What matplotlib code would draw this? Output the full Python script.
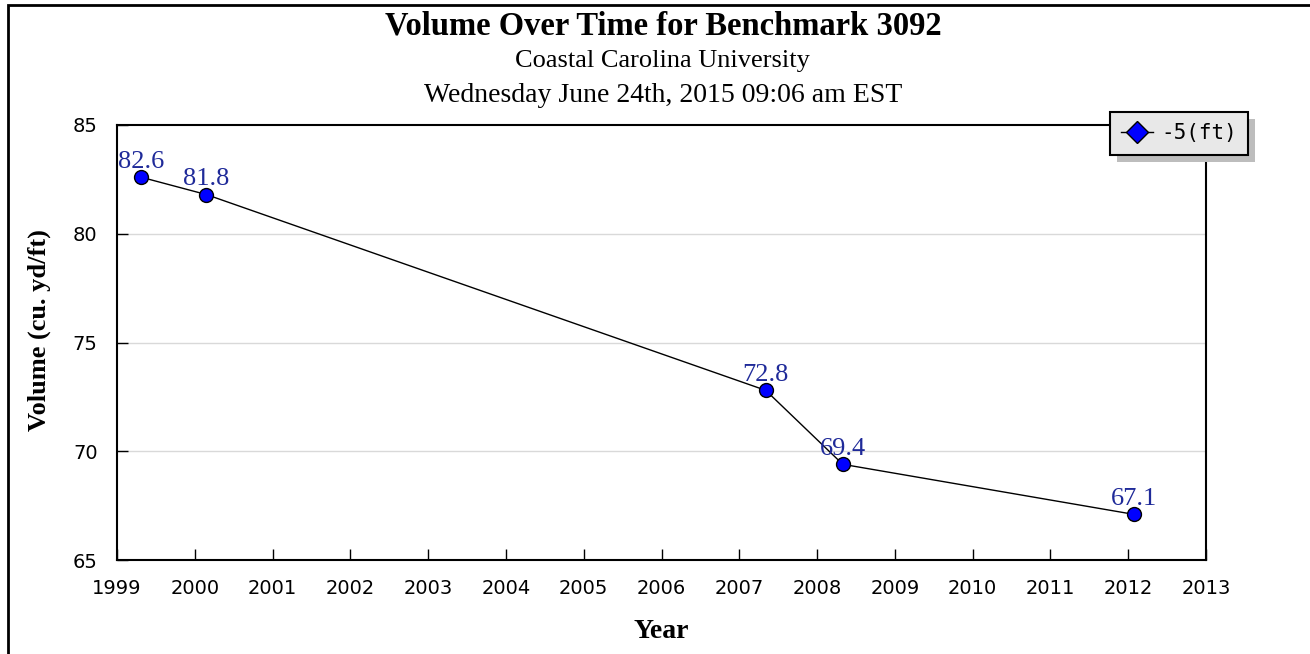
import matplotlib
matplotlib.use('Agg')
import matplotlib.pyplot as plt
from matplotlib.lines import Line2D
from matplotlib.patches import Rectangle

# data
years = [1999.31, 2000.15, 2007.34, 2008.33, 2012.07]
volume = [82.6, 81.8, 72.8, 69.4, 67.1]
series_name = '-5(ft)'
x_ticks = list(range(1999, 2014))
y_ticks = [65, 70, 75, 80, 85]

title = 'Volume Over Time for Benchmark 3092'
subtitle = 'Coastal Carolina University'
date_line = 'Wednesday June 24th, 2015 09:06 am EST'

serif = 'Liberation Serif'

fig = plt.figure(figsize=(13.1, 6.54), dpi=100, facecolor='white')
ax = fig.add_axes([117 / 1310, 1 - 560 / 654, (1206 - 117) / 1310, (560 - 125) / 654])

ax.plot(years, volume, color='black', linewidth=1, marker='o', markersize=10,
        markerfacecolor='#0000ff', markeredgecolor='black', markeredgewidth=1,
        zorder=3)
for x, y in zip(years, volume):
    ax.annotate('%.1f' % y, (x, y), xytext=(0, 3), textcoords='offset points',
                ha='center', va='bottom', fontsize=19, family=serif,
                color='#1f2a99', zorder=4)

ax.set_xlim(1999, 2013)
ax.set_ylim(65, 85)
ax.set_xticks(x_ticks)
ax.set_yticks(y_ticks)
ax.tick_params(direction='in', length=8, width=1, labelsize=14, pad=14)
for yv in y_ticks[1:-1]:
    ax.axhline(yv, color='#d9d9d9', linewidth=1, zorder=0)
for s in ax.spines.values():
    s.set_linewidth(1.5)

ax.set_xlabel('Year', family=serif, fontweight='bold', fontsize=20, labelpad=15)
ax.set_ylabel('Volume (cu. yd/ft)', family=serif, fontweight='bold', fontsize=19)
ax.yaxis.set_label_coords(-0.061, 0.529)

fig.text(0.506, 1 - 26 / 654, title, ha='center', va='center', family=serif,
         fontweight='bold', fontsize=23.5)
fig.text(0.506, 1 - 61 / 654, subtitle, ha='center', va='center', family=serif, fontsize=19)
fig.text(0.506, 1 - 95 / 654, date_line, ha='center', va='center', family=serif, fontsize=20)

handle = Line2D([], [], color='black', linewidth=1, marker='D', markersize=11,
                markerfacecolor='#0000ff', markeredgecolor='black')
leg = ax.legend([handle], [series_name], loc='upper left',
                bbox_to_anchor=(1110 / 1310, 1 - 112 / 654), bbox_transform=fig.transFigure,
                prop={'family': 'DejaVu Sans Mono', 'size': 15},
                fancybox=False, framealpha=1, facecolor='#e8e8e8', edgecolor='black',
                borderaxespad=0, handlelength=1.5, handletextpad=0.4, borderpad=0.55)
leg.get_frame().set_linewidth(1.5)
leg.set_zorder(10)

# drop shadow behind legend
fig.canvas.draw()
bb = leg.get_window_extent()
sh = Rectangle((bb.x0 + 7, bb.y0 - 7), bb.width, bb.height, transform=None,
               facecolor='#bdbdbd', edgecolor='none', zorder=9, clip_on=False)
ax.add_artist(sh)

# outer frame of the image (cropped on right and bottom)
frame = Rectangle((8 / 1310, -0.2), 1.5, 0.2 + 1 - 5 / 654, transform=fig.transFigure,
                  fill=False, edgecolor='black', linewidth=2)
fig.add_artist(frame)

fig.savefig('out.png', dpi=100, facecolor='white')
